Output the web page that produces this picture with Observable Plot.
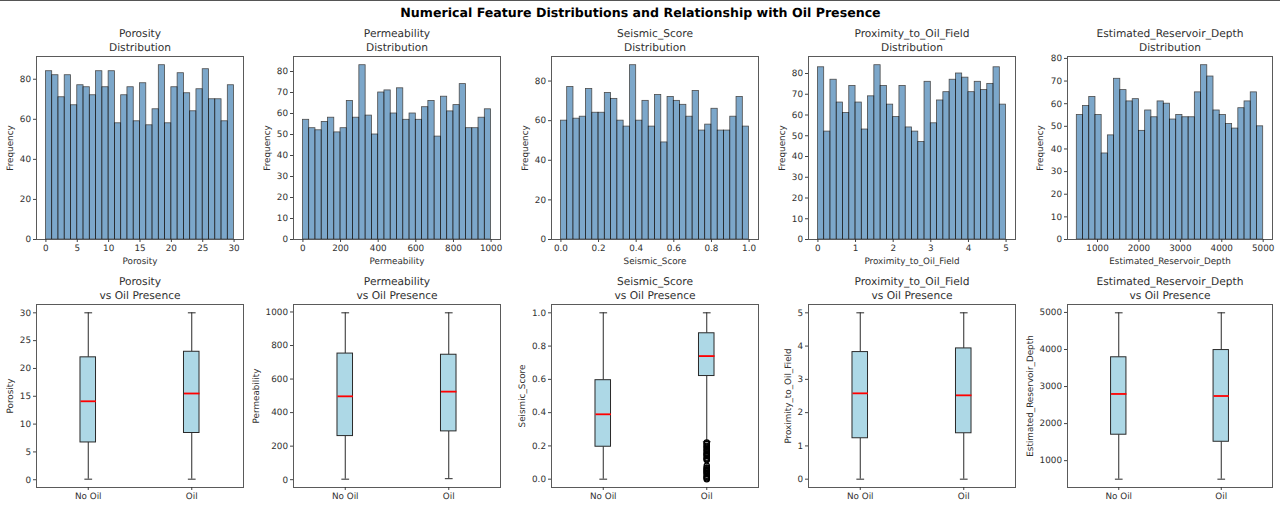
<!DOCTYPE html>
<html>
<head>
<meta charset="utf-8">
<script src="https://cdn.jsdelivr.net/npm/d3@7"></script>
<script src="https://cdn.jsdelivr.net/npm/@observablehq/plot@0.6"></script>
<style>
html,body{margin:0;padding:0;background:#fff;}
#page{position:relative;width:1280px;height:506px;overflow:hidden;font-family:"DejaVu Sans",sans-serif;text-rendering:geometricPrecision;}
#rule{position:absolute;left:0;top:0;width:1280px;height:1px;background:#555;}
#title{position:absolute;left:0;top:5px;width:1281px;text-align:center;font-size:12.6px;line-height:15px;font-weight:bold;color:#000;white-space:nowrap;}
svg text{text-rendering:geometricPrecision;}
</style>
</head>
<body>
<div id="page"><div id="rule"></div><div id="title">Numerical Feature Distributions and Relationship with Oil Presence</div></div>
<script>
const features = ["Porosity","Permeability","Seismic_Score","Proximity_to_Oil_Field","Estimated_Reservoir_Depth"];
const binLow = [0,0,0,0,500];
const binHigh = [30,1000,1,5,5000];

const porosityCounts = [84,82,71,82,67,77,76,72,84,76,84,58,72,76,59,78,57,65,87,58,76,83,73,64,75,85,70,70,59,77];
const permeabilityCounts = [57,53,52,56,58,51,53,66,58,83,59,50,70,71,60,72,57,60,57,63,66,49,68,61,64,74,53,53,58,62];
const seismicCounts = [60,77,61,62,76,64,64,74,71,60,57,88,60,70,57,73,49,72,70,68,62,75,55,58,66,55,55,62,72,57];
const proximityCounts = [83,52,77,66,61,74,66,53,69,84,74,65,59,74,54,52,47,76,56,67,71,77,80,78,71,76,72,75,83,65];
const depthCounts = [55,59,63,55,38,46,71,66,61,62,48,57,54,61,60,53,55,54,54,65,77,72,57,55,51,49,58,61,65,50];
const allCounts = [porosityCounts,permeabilityCounts,seismicCounts,proximityCounts,depthCounts];

const categories = ["No Oil","Oil"];
const noOilLow = [0.1,3,0.0,0.0,500];
const noOilQ1 = [6.7,260,0.195,1.23,1700];
const noOilMedian = [14.1,497,0.39,2.58,2800];
const noOilQ3 = [22,752,0.595,3.82,3790];
const noOilHigh = [30,995,1.0,5.0,4990];
const oilLow = [0.1,6,0.225,0.0,500];
const oilQ1 = [8.4,288,0.62,1.38,1510];
const oilMedian = [15.5,525,0.74,2.52,2745];
const oilQ3 = [23,745,0.877,3.93,3985];
const oilHigh = [30,995,1.0,5.0,4990];
const seismicOilOutliers = [0.0,0.005,0.01,0.015,0.02,0.03,0.035,0.04,0.045,0.05,0.055,0.06,0.065,0.07,0.08,0.115,0.12,0.125,0.13,0.14,0.145,0.15,0.155,0.16,0.17,0.175,0.18,0.19,0.195,0.2,0.21,0.215,0.22];

const histXTicks = [[0,5,10,15,20,25,30],[0,200,400,600,800,1000],[0,0.2,0.4,0.6,0.8,1],[0,1,2,3,4,5],[1000,2000,3000,4000,5000]];
const histYTicks = [[0,20,40,60,80],[0,10,20,30,40,50,60,70,80],[0,20,40,60,80],[0,10,20,30,40,50,60,70,80],[0,10,20,30,40,50,60,70,80]];
const boxYTicks = [[0,5,10,15,20,25,30],[0,200,400,600,800,1000],[0,0.2,0.4,0.6,0.8,1],[0,1,2,3,4,5],[1000,2000,3000,4000,5000]];
const tickFormats = [String,String,d3.format(".1f"),String,String];

const frameLeft = [36,293,551,808,1067];
const frameRight = [243,500,758,1015,1272];
const histLabelX = [10,267,525,782,1040];
const boxLabelX = [10,256,522,788,1030];
const frameH = 183;
const ink = "#303030", edge = "#5a5a5a", line = "#2a2a2a";
const page = document.getElementById("page");

function place(top, i, labelX, marginBottom, xOpts, yOpts, marks, titleText) {
  const marginLeft = Math.min(frameLeft[i], 46);
  const marginRight = 6;
  const w = frameRight[i] - frameLeft[i];
  const chart = Plot.plot({
    width: marginLeft + w + marginRight,
    height: 36 + frameH + marginBottom,
    marginLeft, marginRight, marginTop: 36, marginBottom,
    style: {position:"absolute", left:(frameLeft[i]-marginLeft)+"px", top:(top-36)+"px",
            background:"transparent", fontFamily:"'DejaVu Sans',sans-serif", fontSize:"8.8px", color:ink, overflow:"visible"},
    x: xOpts, y: yOpts,
    marks: [
      ...marks,
      Plot.frame({stroke:edge, strokeWidth:1}),
      Plot.axisX({...xOpts.axisOpts, tickSize:3, tickPadding:2.5, fill:ink, stroke:ink, strokeOpacity:0.9, labelArrow:"none", labelAnchor:"center", fontSize:8.8}),
      Plot.axisY({ticks:yOpts.ticksList, tickFormat:yOpts.fmt, label:yOpts.labelText, labelArrow:"none", labelAnchor:"center",
                  labelOffset:frameLeft[i]-labelX+4, tickSize:3, tickPadding:2.5, fill:ink, stroke:ink, strokeOpacity:0.9, fontSize:8.8}),
      Plot.text([titleText], {text:d=>d, frameAnchor:"top", lineAnchor:"bottom", dy:-6, fontSize:10.65, lineHeight:1.28, fill:ink})
    ]
  });
  page.appendChild(chart);
}

features.forEach((name,i) => {
  const counts = allCounts[i];
  const lo = binLow[i], hi = binHigh[i], pad = (hi-lo)*0.05, step = (hi-lo)/counts.length;
  const rows = counts.map((c,k)=>({x1:lo+k*step, x2:lo+(k+1)*step, c}));
  place(56, i, histLabelX[i], 32,
    {domain:[lo-pad,hi+pad], axisOpts:{ticks:histXTicks[i], tickFormat:tickFormats[i], label:name, labelOffset:24}},
    {domain:[0,d3.max(counts)*1.05], ticksList:histYTicks[i], fmt:String, labelText:"Frequency"},
    [Plot.rectY(rows,{x1:"x1",x2:"x2",y:"c",fill:"steelblue",stroke:"#000",strokeWidth:0.8,opacity:0.7})],
    name+"\nDistribution");

  const allMin = Math.min(noOilLow[i],oilLow[i], i===2?0:Infinity), allMax = Math.max(noOilHigh[i],oilHigh[i]);
  const ypad = (allMax-allMin)*0.05;
  const boxes = [
    {p:1,low:noOilLow[i],q1:noOilQ1[i],med:noOilMedian[i],q3:noOilQ3[i],high:noOilHigh[i]},
    {p:2,low:oilLow[i],q1:oilQ1[i],med:oilMedian[i],q3:oilQ3[i],high:oilHigh[i]}
  ];
  const bw = 0.075, cw = 0.0375;
  const outl = i===2 ? seismicOilOutliers.map(v=>({p:2,v})) : [];
  const marks = [
    Plot.ruleX(boxes,{x:"p",y1:"low",y2:"q1",stroke:line,strokeWidth:1}),
    Plot.ruleX(boxes,{x:"p",y1:"q3",y2:"high",stroke:line,strokeWidth:1}),
    Plot.link(boxes,{x1:d=>d.p-cw,x2:d=>d.p+cw,y1:"low",y2:"low",stroke:line,strokeWidth:1}),
    Plot.link(boxes,{x1:d=>d.p-cw,x2:d=>d.p+cw,y1:"high",y2:"high",stroke:line,strokeWidth:1}),
    Plot.rect(boxes,{x1:d=>d.p-bw,x2:d=>d.p+bw,y1:"q1",y2:"q3",fill:"lightblue",stroke:line,strokeWidth:1}),
    Plot.link(boxes,{x1:d=>d.p-bw,x2:d=>d.p+bw,y1:"med",y2:"med",stroke:"red",strokeWidth:1.8}),
    Plot.dot(outl,{x:"p",y:"v",r:2.7,stroke:"#000",fill:"none",strokeWidth:1.1})
  ];
  place(304, i, boxLabelX[i], 19,
    {domain:[0.5,2.5], axisOpts:{ticks:[1,2], tickFormat:d=>categories[d-1], label:null}},
    {domain:[allMin-ypad,allMax+ypad], ticksList:boxYTicks[i], fmt:tickFormats[i], labelText:name},
    marks,
    name+"\nvs Oil Presence");
});
</script>
</body>
</html>
